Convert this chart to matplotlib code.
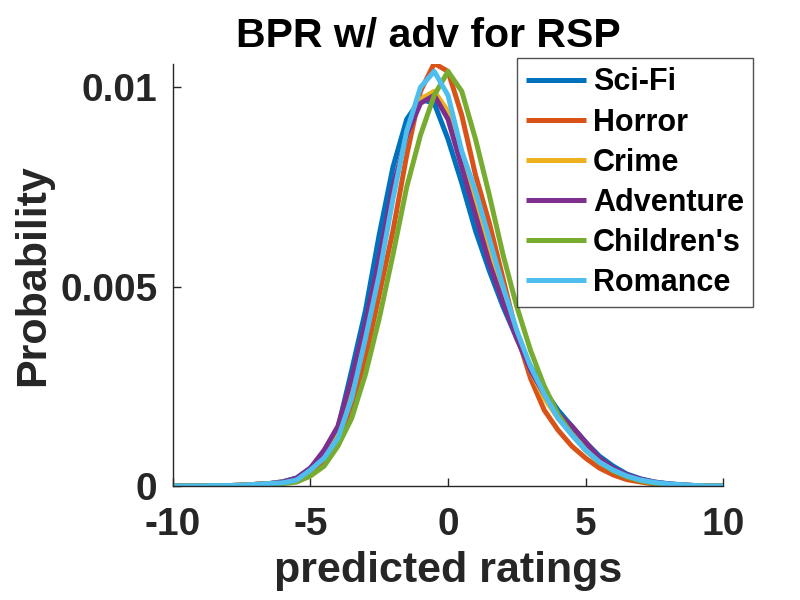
import matplotlib
matplotlib.use("Agg")
import matplotlib.pyplot as plt

x = [-10, -9.5, -9, -8.5, -8, -7.5, -7, -6.5, -6, -5.5, -5, -4.5, -4, -3.5, -3, -2.5, -2, -1.5, -1, -0.5,
     0, 0.5, 1, 1.5, 2, 2.5, 3, 3.5, 4, 4.5, 5, 5.5, 6, 6.5, 7, 7.5, 8, 8.5, 9, 9.5, 10]

tail_left = [0, 0, 0, 0.00001, 0.00001, 0.00002, 0.00004, 0.00006]

scifi = tail_left + [0.00011, 0.0002, 0.00045, 0.0008, 0.00145, 0.0029, 0.0044, 0.0063, 0.0080, 0.0092, 0.0097, 0.0096,
         0.0087, 0.0076, 0.0064, 0.0054, 0.0045, 0.0037, 0.0030, 0.0024, 0.0019, 0.0015, 0.0011, 0.00075,
         0.0005, 0.0003, 0.00018, 0.0001, 0.00006, 0.00003, 0.00001, 0, 0]
horror = tail_left + [0.00008, 0.00012, 0.0003, 0.0006, 0.0011, 0.0019, 0.0032, 0.0048, 0.0064, 0.0083, 0.0099, 0.0106,
          0.0104, 0.0093, 0.0078, 0.0066, 0.0052, 0.0038, 0.0027, 0.0019, 0.0014, 0.0010, 0.0007, 0.00045,
          0.00028, 0.00016, 0.0001, 0.00005, 0.00003, 0.00001, 0, 0, 0]
crime = tail_left + [0.0001, 0.00018, 0.0004, 0.0008, 0.0014, 0.0026, 0.0040, 0.0056, 0.0074, 0.0088, 0.0097, 0.0099,
         0.0094, 0.0082, 0.0070, 0.0058, 0.0047, 0.0037, 0.0029, 0.0022, 0.0017, 0.0013, 0.0009, 0.0006,
         0.0004, 0.00025, 0.00015, 0.00008, 0.00004, 0.00002, 0.00001, 0, 0]
adventure = tail_left + [0.0001, 0.0002, 0.00045, 0.0009, 0.0015, 0.0027, 0.0041, 0.0057, 0.0075, 0.0088, 0.0096, 0.0098,
             0.0092, 0.0080, 0.0068, 0.0056, 0.0046, 0.0037, 0.0029, 0.0023, 0.0018, 0.0015, 0.0011, 0.0007,
             0.00045, 0.00028, 0.00017, 0.0001, 0.00005, 0.00003, 0.00001, 0, 0]
childrens = tail_left + [0.00006, 0.0001, 0.00025, 0.0005, 0.0010, 0.0017, 0.0028, 0.0042, 0.0058, 0.0075, 0.0088, 0.0098,
             0.0104, 0.0099, 0.0087, 0.0073, 0.0058, 0.0045, 0.0034, 0.0025, 0.0018, 0.0013, 0.0009, 0.0006,
             0.00038, 0.00023, 0.00013, 0.00007, 0.00004, 0.00002, 0.00001, 0, 0]
romance = tail_left + [0.00008, 0.00015, 0.0004, 0.0007, 0.0012, 0.0022, 0.0037, 0.0053, 0.0072, 0.0089, 0.0100, 0.0104,
           0.0098, 0.0084, 0.0074, 0.0062, 0.0050, 0.0039, 0.0030, 0.0023, 0.0017, 0.00128, 0.0009, 0.0006,
           0.0004, 0.00025, 0.00015, 0.00009, 0.00005, 0.00003, 0.00001, 0, 0]

labels = ["Sci-Fi", "Horror", "Crime", "Adventure", "Children's", "Romance"]
series = [scifi, horror, crime, adventure, childrens, romance]
colors = [(0, 0.447, 0.741), (0.85, 0.325, 0.098), (0.929, 0.694, 0.125),
          (0.494, 0.184, 0.556), (0.466, 0.674, 0.188), (0.301, 0.745, 0.933)]

xticks = [-10, -5, 0, 5, 10]
yticks = [0, 0.005, 0.01]
yticklabels = ["0", "0.005", "0.01"]

plt.rcParams['font.family'] = ['Liberation Sans', 'DejaVu Sans']
plt.rcParams['font.weight'] = 'bold'

fig = plt.figure(figsize=(8, 6), dpi=100)
ax = fig.add_axes([0.216, 0.19, 0.688, 0.703])
dark = '#262626'
for s, lab, c in zip(series, labels, colors):
    ax.plot(x, s, color=c, lw=3.6, label=lab, solid_capstyle='butt')

ax.set_xlim(-10, 10)
ax.set_ylim(0, 0.01058)
ax.set_xticks(xticks)
ax.set_xticklabels([str(t) for t in xticks])
ax.set_yticks(yticks)
ax.set_yticklabels(yticklabels)
for sp in ['top', 'right']:
    ax.spines[sp].set_visible(False)
for sp in ['left', 'bottom']:
    ax.spines[sp].set_color(dark)
    ax.spines[sp].set_linewidth(1.0)
ax.tick_params(direction='in', length=6, width=1.0, colors=dark, labelsize=28)
ax.tick_params(axis='x', pad=15)
ax.tick_params(axis='y', pad=11)
for t in ax.get_xticklabels() + ax.get_yticklabels():
    t.set_fontweight('bold')

ax.set_xlabel("predicted ratings", fontsize=31, fontweight='bold', color=dark, labelpad=6)
ax.set_ylabel("Probability", fontsize=31, fontweight='bold', color=dark, labelpad=5)
ax.set_title("BPR w/ adv for RSP", fontsize=29.5, fontweight='bold', color='black', pad=13, x=0.4636)

leg = ax.legend(loc='upper left', bbox_to_anchor=(0.625, 1.014), borderaxespad=0,
                fontsize=22, frameon=True, fancybox=False, handlelength=1.95,
                handletextpad=0.25, labelspacing=0.33, borderpad=0.3)
leg.get_frame().set_edgecolor(dark)
leg.get_frame().set_linewidth(1.0)
for t in leg.get_texts():
    t.set_fontweight('bold')
    t.set_color('black')

fig.savefig("out.png", dpi=100)
